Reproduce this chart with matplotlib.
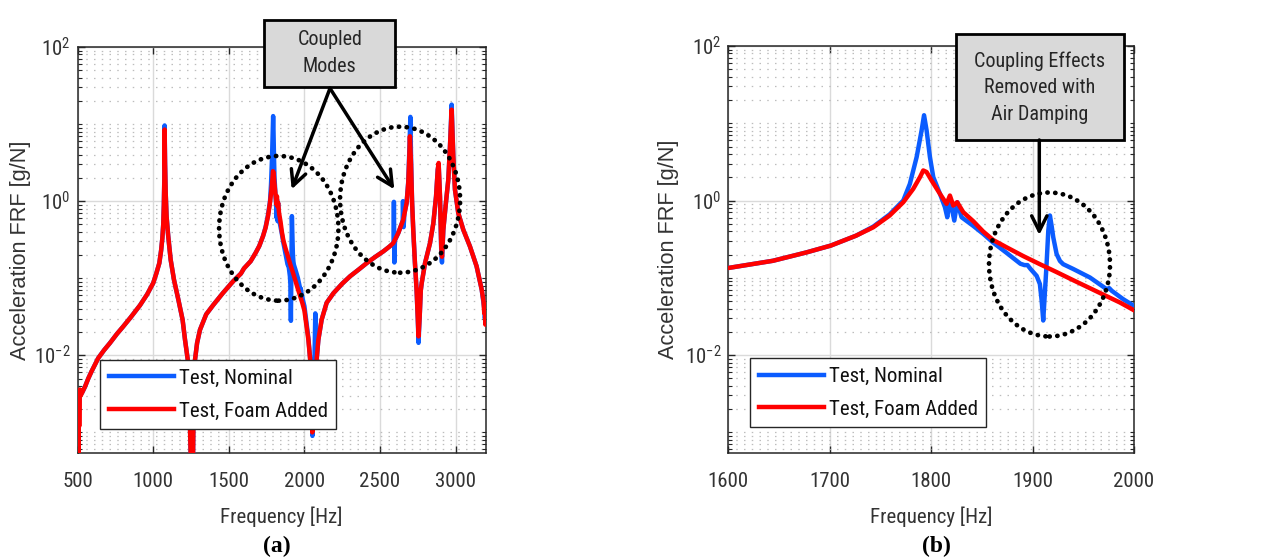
import numpy as np
import matplotlib
matplotlib.use("Agg")
import matplotlib.pyplot as plt
from matplotlib import font_manager
from matplotlib.patches import Ellipse, Rectangle, FancyArrowPatch
from matplotlib.ticker import FixedLocator, FuncFormatter, NullFormatter

# ---------------- data ----------------
# Panel (a): 500-3200 Hz
freq_a_red = [500, 502, 504, 507, 510, 514, 520, 530, 548, 570, 592, 636, 675, 713, 760, 800, 850, 912, 960, 1000,
              1020, 1040, 1052, 1060, 1066, 1070, 1073, 1075, 1078, 1082, 1088, 1099, 1115, 1137, 1166, 1194, 1210, 1228, 1239, 1246,
              1250, 1262, 1267, 1276, 1290, 1309, 1350, 1397, 1460, 1530, 1580,
              1600, 1644, 1677, 1701, 1726, 1743, 1759, 1772, 1782, 1789, 1792, 1796, 1800, 1809, 1815, 1818, 1822, 1826, 1832, 1842,
              1851, 1861, 1874, 1891, 1907, 1924, 1940, 1956, 1973, 1986, 2000,
              2010, 2026, 2040, 2048, 2052, 2056, 2064, 2077, 2092, 2114, 2147, 2192, 2250, 2302, 2360, 2412, 2470, 2522, 2560, 2588,
              2621, 2654, 2676, 2687, 2694, 2698, 2702, 2705, 2712, 2720, 2731, 2742, 2750, 2755, 2762, 2770, 2776, 2798, 2831, 2853,
              2871, 2882, 2888, 2897, 2905, 2910, 2919, 2936, 2952, 2963, 2974, 2985, 2996, 3018, 3051, 3095, 3139, 3173, 3185, 3190,
              3194, 3197, 3200]
frf_a_red = [3e-4, 3.0e-3, 4e-4, 3.4e-3, 1.2e-3, 3.6e-3, 3.0e-3, 3.3e-3, 3.9e-3, 5.0e-3, 6.2e-3, 9.2e-3, 0.0117, 0.0144, 0.019, 0.0235, 0.031, 0.0445, 0.062, 0.087,
             0.115, 0.157, 0.23, 0.33, 0.5, 0.9, 1.8, 8.5, 3.0, 1.3, 0.635, 0.349, 0.174, 0.0955, 0.0526, 0.0289, 0.0159, 0.0088, 0.0026, 6e-4,
             3e-4, 3e-4, 2.6e-3, 8.7e-3, 0.0145, 0.0214, 0.034, 0.045, 0.064, 0.092, 0.115,
             0.134, 0.166, 0.213, 0.261, 0.351, 0.451, 0.638, 0.95, 1.42, 2.01, 2.45, 2.34, 1.82, 1.22, 0.905, 1.16, 0.86, 0.95, 0.705, 0.54,
             0.396, 0.308, 0.248, 0.191, 0.150, 0.1185, 0.093, 0.0734, 0.0578, 0.0479, 0.038,
             0.027, 0.016, 0.008, 0.003, 1.0e-3, 2.0e-3, 4.0e-3, 0.0072, 0.0158, 0.029, 0.048, 0.064, 0.085, 0.106, 0.13, 0.157, 0.19, 0.223, 0.255, 0.286,
             0.386, 0.575, 0.946, 1.72, 3.82, 6.95, 4.5, 3.13, 1.0, 0.426, 0.16, 0.071, 0.03, 0.0176, 0.03, 0.07, 0.0865, 0.157, 0.286, 0.52,
             1.16, 2.56, 3.13, 1.16, 0.259, 0.19, 0.426, 0.946, 1.9, 5.15, 15.4, 3.82, 1.41, 0.70, 0.426, 0.259, 0.143, 0.071, 0.05, 0.035,
             0.045, 0.025, 0.03]

freq_a_blue = [500, 503, 506, 510, 515, 520, 530, 548, 570, 592, 636, 675, 713, 760, 800, 850, 912, 960, 1000, 1020,
               1040, 1052, 1060, 1066, 1070, 1073, 1075, 1078, 1082, 1088, 1099, 1115, 1137, 1166, 1194, 1210, 1228, 1239, 1246, 1250,
               1262, 1267, 1276, 1290, 1309, 1350, 1397, 1460, 1530, 1580,
               1600, 1644, 1677, 1701, 1726, 1743, 1759, 1772.5, 1779, 1785.7, 1790.6, 1793, 1795.5, 1798.8, 1802.1, 1808.7, 1813.6, 1815.9, 1818.5, 1822.8,
               1825.7, 1830, 1841.5, 1851.4, 1861.2, 1874.4, 1888, 1892, 1895, 1898, 1904, 1907.2, 1909, 1910.5, 1912, 1913.8, 1915.5, 1917.1, 1919, 1920.4,
               1923.7, 1927, 1930.2, 1940.1, 1956.5, 1973, 1975.6, 1978, 1989.4, 2000,
               2010, 2026, 2040, 2048, 2053, 2058, 2065, 2070, 2072, 2075, 2078, 2092, 2114, 2147, 2192, 2250, 2302, 2360, 2412, 2470,
               2522, 2560, 2585, 2590, 2592, 2595, 2599, 2621, 2645, 2650, 2652, 2656, 2662, 2676, 2687, 2694, 2701, 2705, 2712, 2720,
               2731, 2742, 2750, 2755, 2762, 2770, 2776, 2798, 2831, 2853, 2871, 2882, 2888, 2897, 2905, 2910, 2919, 2936, 2952, 2963,
               2974, 2985, 2996, 3018, 3051, 3095, 3139, 3173, 3185, 3190, 3194, 3197, 3200]
frf_a_blue = [1.6e-3, 2.2e-3, 1.4e-3, 2.8e-3, 3.3e-3, 3.1e-3, 3.3e-3, 3.9e-3, 5.0e-3, 6.2e-3, 9.2e-3, 0.0117, 0.0144, 0.019, 0.0235, 0.031, 0.0445, 0.062, 0.087, 0.115,
              0.157, 0.23, 0.33, 0.5, 0.9, 2.0, 9.6, 3.2, 1.3, 0.635, 0.349, 0.174, 0.0955, 0.0526, 0.0289, 0.0159, 0.0088, 0.0026, 6e-4, 3e-4,
              3e-4, 2.6e-3, 8.7e-3, 0.0145, 0.0214, 0.034, 0.045, 0.064, 0.092, 0.115,
              0.134, 0.166, 0.213, 0.261, 0.351, 0.46, 0.66, 1.0, 1.64, 3.65, 8.1, 12.7, 8.1, 3.65, 2.01, 1.22, 0.82, 0.608, 1.05, 0.55,
              0.95, 0.608, 0.47, 0.37, 0.285, 0.21, 0.152, 0.146, 0.146, 0.13, 0.106, 0.083, 0.05, 0.028, 0.06, 0.15, 0.408, 0.64, 0.45, 0.334,
              0.203, 0.165, 0.15, 0.13, 0.101, 0.0713, 0.0735, 0.068, 0.0528, 0.0433,
              0.03, 0.017, 0.008, 0.003, 9e-4, 2e-3, 6e-3, 0.02, 0.035, 0.01, 0.0075, 0.0158, 0.029, 0.048, 0.064, 0.085, 0.106, 0.13, 0.157, 0.19,
              0.223, 0.255, 0.28, 0.30, 0.98, 0.16, 0.31, 0.386, 0.52, 0.56, 1.0, 0.46, 0.7, 0.946, 1.8, 4.5, 12.4, 4.0, 1.0, 0.426,
              0.16, 0.071, 0.03, 0.0145, 0.03, 0.07, 0.0865, 0.157, 0.286, 0.52, 1.16, 2.56, 3.0, 1.1, 0.24, 0.16, 0.426, 0.946, 1.9, 5.15,
              17.9, 3.82, 1.41, 0.70, 0.426, 0.259, 0.143, 0.071, 0.048, 0.04, 0.03, 0.035, 0.028]

# Panel (b): 1600-2000 Hz zoom
freq_b_red = [1600, 1644, 1677, 1701, 1726, 1743, 1759, 1772.5, 1782.4, 1789, 1792.2, 1795.5, 1800.4, 1808.7, 1815.2, 1818.5,
              1821.8, 1825.7, 1831.7, 1841.5, 1851.4, 1861.2, 1874.4, 1890.8, 1907.2, 1923.7, 1940.1, 1956.5, 1973, 1986.1, 2000]
frf_b_red = [0.134, 0.166, 0.213, 0.261, 0.351, 0.451, 0.638, 0.95, 1.42, 2.01, 2.45, 2.34, 1.82, 1.22, 0.905, 1.16,
             0.86, 0.95, 0.705, 0.54, 0.396, 0.308, 0.248, 0.191, 0.150, 0.1185, 0.093, 0.0734, 0.0578, 0.0479, 0.038]
freq_b_blue = [1600, 1644, 1677, 1701, 1726, 1743, 1759, 1772.5, 1779, 1785.7, 1790.6, 1793, 1795.5, 1798.8, 1802.1, 1808.7,
               1813.6, 1815.9, 1818.5, 1822.8, 1825.7, 1830, 1841.5, 1851.4, 1861.2, 1874.4, 1888, 1892, 1895, 1898, 1904,
               1907.2, 1909, 1910.5, 1912, 1913.8, 1915.5, 1917.1, 1919, 1920.4, 1923.7, 1927, 1930.2, 1940.1, 1956.5, 1973,
               1975.6, 1978, 1989.4, 2000]
frf_b_blue = [0.134, 0.166, 0.213, 0.261, 0.351, 0.46, 0.66, 1.0, 1.64, 3.65, 8.1, 12.7, 8.1, 3.65, 2.01, 1.22,
              0.82, 0.608, 1.05, 0.55, 0.95, 0.608, 0.47, 0.37, 0.285, 0.21, 0.152, 0.146, 0.146, 0.13, 0.106,
              0.083, 0.05, 0.028, 0.06, 0.15, 0.408, 0.64, 0.45, 0.334, 0.203, 0.165, 0.15, 0.13, 0.101, 0.0713,
              0.0735, 0.068, 0.0528, 0.0433]

legend_labels = ["Test, Nominal", "Test, Foam Added"]
xticks_a = [500, 1000, 1500, 2000, 2500, 3000]
xticks_b = [1600, 1700, 1800, 1900, 2000]
yticks_major = [1e-2, 1e0, 1e2]
ylabel_text = "Acceleration FRF [g/N]"
xlabel_text = "Frequency [Hz]"
box_a_text = "Coupled\nModes"
box_b_text = "Coupling Effects\nRemoved with\nAir Damping"
panel_tags = ["(a)", "(b)"]

for a, b in [(freq_a_red, frf_a_red), (freq_a_blue, frf_a_blue), (freq_b_red, frf_b_red), (freq_b_blue, frf_b_blue)]:
    assert len(a) == len(b), (len(a), len(b))

# ---------------- fonts ----------------
ttf = font_manager.fontManager.ttflist
names = {f.name for f in ttf}
NARROW, STRETCH = None, "normal"
for n in ["Liberation Sans Narrow", "Arial Narrow", "Nimbus Sans Narrow", "Roboto Condensed",
          "Open Sans Condensed", "Noto Sans Condensed", "DejaVu Sans Condensed"]:
    if n in names:
        NARROW = n
        break
if NARROW is None:
    for pref in ["Roboto", "Open Sans", "Noto Sans", "DejaVu Sans"]:
        hit = [f for f in ttf if f.name == pref and f.stretch in ("condensed", "semi-condensed")]
        if hit:
            NARROW, STRETCH = pref, hit[0].stretch
            break

if NARROW is not None:
    SANS = NARROW
    k = 1.0
else:
    SANS = "Liberation Sans"
    k = 0.88

plt.rcParams["font.family"] = [SANS, "DejaVu Sans"]
plt.rcParams["font.stretch"] = STRETCH
plt.rcParams["mathtext.default"] = "regular"

FS_TICK = 15 * k
FS_XLAB = 15 * k
FS_LEG = 15 * k
FS_BOX = 14.5 * k
FS_YLAB = 15.7

BLUE = "#0b5cff"
RED = "#ff0000"
DARK = "#262626"
W, H = 1283, 558

fig = plt.figure(figsize=(W / 100, H / 100), dpi=100)


def px_axes(x0, y0, x1, y1):
    return fig.add_axes([x0 / W, 1 - y1 / H, (x1 - x0) / W, (y1 - y0) / H])


def fx(x):
    return x / W


def fy(y):
    return 1 - y / H


axA = px_axes(77.7, 47, 485.8, 453)
axB = px_axes(728.3, 46, 1134, 453)

minor_vals = [m * 10.0 ** kk for kk in range(-4, 3) for m in range(1, 10)
              if not (m == 1 and kk in (-2, 0, 2))]


def sci_fmt(v, pos):
    e = int(round(np.log10(v)))
    return r"$\mathregular{10^{%d}}$" % e


def style_axes(ax, xlim, xticks):
    ax.set_yscale("log")
    ax.set_xlim(*xlim)
    ax.set_ylim(5.4e-4, 100)
    ax.set_xticks(xticks)
    ax.yaxis.set_major_locator(FixedLocator(yticks_major))
    ax.yaxis.set_minor_locator(FixedLocator(minor_vals))
    ax.yaxis.set_major_formatter(FuncFormatter(sci_fmt))
    ax.yaxis.set_minor_formatter(NullFormatter())
    ax.grid(which="major", axis="both", color="#dadada", lw=1.0, ls="-")
    ax.grid(which="minor", axis="y", color="#bdbdbd", lw=0.9, ls=(0, (1.2, 5.0)))
    ax.set_axisbelow(True)
    ax.tick_params(which="both", direction="in", top=True, right=True, colors=DARK, labelcolor="#333333")
    ax.tick_params(which="major", length=5, width=1)
    ax.tick_params(which="minor", length=3, width=0.8)
    ax.tick_params(axis="x", which="major", labelsize=FS_TICK, pad=14)
    ax.tick_params(axis="y", which="major", labelsize=FS_TICK, pad=5)
    for s in ax.spines.values():
        s.set_color(DARK)
        s.set_linewidth(1.1)
    ax.set_xlabel(xlabel_text, fontsize=FS_XLAB, color="#333333")
    ax.set_ylabel(ylabel_text, fontsize=FS_YLAB, color="#333333", family=["Liberation Sans", "DejaVu Sans"],
                  stretch="normal")
    ax.xaxis.label.set_va("center")
    ax.yaxis.label.set_va("center")


style_axes(axA, (500, 3200), xticks_a)
style_axes(axB, (1600, 2000), xticks_b)
axA.xaxis.set_label_coords(0.5, (453 - 516.7) / 406)
axB.xaxis.set_label_coords(0.5, (453 - 516.7) / 407)
axA.yaxis.set_label_coords((21 - 77.7) / 408, 0.5)
axB.yaxis.set_label_coords((668 - 728.3) / 405.7, 0.5)

lw = 3.2
for ax, fb, vb, fr, vr in [(axA, freq_a_blue, frf_a_blue, freq_a_red, frf_a_red),
                           (axB, freq_b_blue, frf_b_blue, freq_b_red, frf_b_red)]:
    ax.plot(fb, vb, color=BLUE, lw=lw, solid_joinstyle="round", label=legend_labels[0], zorder=3)
    ax.plot(fr, vr, color=RED, lw=lw, solid_joinstyle="round", label=legend_labels[1], zorder=4)

# legends
fs_px = FS_LEG * 100 / 72
row = 0.87 * fs_px
ls_leg = (32 - row) / fs_px
bp_leg = max(0.1, (71.5 - 2 * row - ls_leg * fs_px) / fs_px / 2.5)
for ax, (lx, ly) in [(axA, ((100 - 77.7) / 408, 1 - (360 - 47) / 406)),
                     (axB, ((750 - 728.3) / 405.7, 1 - (358.3 - 46) / 407))]:
    leg = ax.legend(loc="upper left", bbox_to_anchor=(lx, ly), bbox_transform=ax.transAxes,
                    borderaxespad=0, frameon=True, fancybox=False, framealpha=1, edgecolor=DARK,
                    fontsize=FS_LEG, handlelength=65 / fs_px, handletextpad=5 / fs_px,
                    borderpad=bp_leg, labelspacing=ls_leg)
    leg.get_frame().set_linewidth(1.0)
    leg.set_zorder(6)
    for t in leg.get_texts():
        t.set_color("#111111")

# dotted circles (annotation ellipses)
ell_specs = [
    (axA, (278.7, 228.3), 119.3, 144.7, 77.7, 47, 408, 406),
    (axA, (400.0, 199.7), 120.0, 146.0, 77.7, 47, 408, 406),
    (axB, (1049.5, 264.5), 121.0, 144.0, 728.3, 46, 405.7, 407),
]
for ax, (cx, cy), w, h, ax0, ay0, aw, ah in ell_specs:
    e = Ellipse(((cx - ax0) / aw, 1 - (cy - ay0) / ah), w / aw, h / ah, transform=ax.transAxes,
                fill=False, ec="black", lw=3.4, ls=(0, (0.05, 1.6)), clip_on=False, zorder=7)
    e.set_capstyle("round")
    ax.add_patch(e)

# callout boxes
box_fs_px = FS_BOX * 100 / 72
for (x0, y0, x1, y1), txt, gap, (tx, ty) in [((264.3, 20, 395, 87.3), box_a_text, 30.0, (329.7, 53.0)),
                                             ((955.7, 34, 1124, 140), box_b_text, 28.3, (1039.8, 87.7))]:
    fig.add_artist(Rectangle((fx(x0), fy(y1)), fx(x1 - x0), (y1 - y0) / H, transform=fig.transFigure,
                             fc="#d9d9d9", ec="black", lw=2, zorder=8))
    fig.text(fx(tx), fy(ty), txt, ha="center", va="center", fontsize=FS_BOX, color="#262626",
             linespacing=gap / (0.94 * box_fs_px), zorder=9)

# arrows
for (x0, y0), (x1, y1) in [((330, 88.3), (291.7, 189.3)), ((330, 88.3), (394.3, 189.3)),
                           ((1039.3, 140), (1039.3, 235))]:
    arr = FancyArrowPatch((fx(x0), fy(y0)), (fx(x1), fy(y1)), transform=fig.transFigure,
                          arrowstyle="->,head_length=1.1,head_width=0.55", mutation_scale=10,
                          lw=2.5, color="black", shrinkA=0, shrinkB=0, zorder=9)
    fig.add_artist(arr)

# panel tags
fig.text(fx(277), fy(546.7), panel_tags[0], ha="center", va="center", fontsize=17,
         fontweight="bold", family="Liberation Serif", stretch="normal", color="black")
fig.text(fx(936), fy(546), panel_tags[1], ha="center", va="center", fontsize=17,
         fontweight="bold", family="Liberation Serif", stretch="normal", color="black")

fig.savefig("out.png", dpi=100)
